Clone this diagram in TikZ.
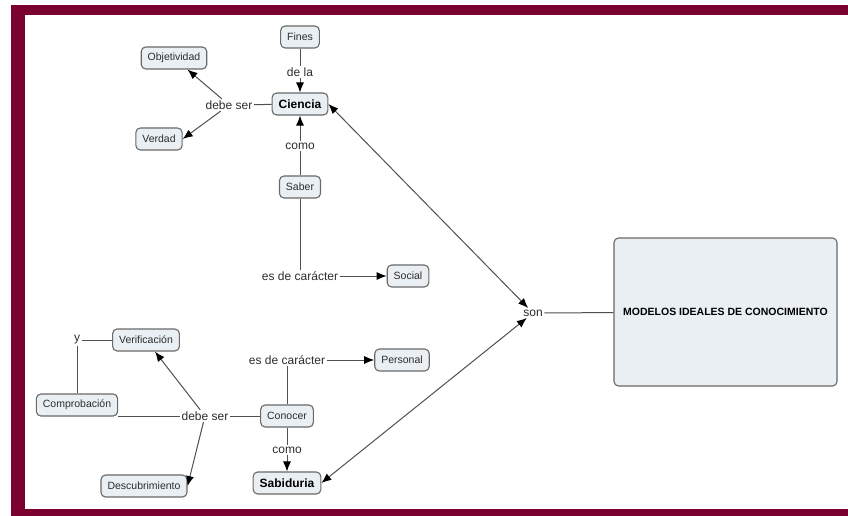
\documentclass[tikz,border=0pt]{standalone}
\usepackage{fontspec}
\setmainfont{Liberation Sans}
\usetikzlibrary{arrows.meta, calc, positioning}

\definecolor{marco}{RGB}{122,0,48}
\definecolor{relleno}{RGB}{233,239,243}
\definecolor{borde}{RGB}{105,105,105}
\definecolor{trazo}{RGB}{80,80,80}
\definecolor{texto}{RGB}{45,45,45}

\begin{document}
\begin{tikzpicture}[x=1pt, y=-1pt,
        concepto/.style={draw=borde, fill=relleno, rounded corners=4.5pt, line width=1.1pt, inner xsep=6.5pt, inner ysep=0pt, minimum height=22pt, text=texto, font=\fontsize{10.5}{12}\selectfont},
        principal/.style={concepto, text=black, font=\fontsize{12}{14}\selectfont\bfseries},
        enlace/.style={inner sep=1.5pt, text=texto, font=\fontsize{12}{14}\selectfont},
        linea/.style={draw=trazo, line width=1pt},
        flecha/.style={linea, -{Latex[length=10pt, width=8pt, color=black]}},
        doble/.style={linea, {Latex[length=10pt, width=8pt, color=black]}-{Latex[length=10pt, width=8pt, color=black]}}]
    \useasboundingbox (0,0) rectangle (848,516);
    \fill[marco] (11,5) rectangle (848,516);
    \fill[white] (25,15) rectangle (848,509);

    % Ciencia
    \node[concepto] (fines) at (300,37) {Fines};
    \node[enlace] (dela) at (300,72) {de la};
    \node[principal] (ciencia) at (300,104) {Ciencia};
    \node[concepto] (objet) at (174,58) {Objetividad};
    \node[concepto] (verdad) at (159,139) {Verdad};
    \node[enlace] (debeA) at (229,105) {debe ser};
    \node[enlace] (comoA) at (300,146) {como};
    \node[concepto] (saber) at (300,187) {Saber};
    \node[enlace] (caractA) at (300,276) {es de carácter};
    \node[concepto] (social) at (408,276) {Social};

    % Modelos
    \node[enlace] (son) at (533,313) {son};
    \node[concepto, minimum width=223pt, minimum height=148pt, text=black, font=\fontsize{10.5}{12}\selectfont\bfseries] (modelos) at (725.5,312) {MODELOS IDEALES DE CONOCIMIENTO};

    % Sabiduria
    \node[concepto] (verif) at (146,340) {Verificación};
    \node[enlace] (y) at (77,340) {y};
    \node[concepto] (comprob) at (77,405) {Comprobación};
    \node[enlace] (debeB) at (205,416) {debe ser};
    \node[concepto] (conocer) at (287,416) {Conocer};
    \node[enlace] (caractB) at (287,360) {es de carácter};
    \node[concepto] (personal) at (402,360) {Personal};
    \node[enlace] (comoB) at (287,450) {como};
    \node[principal] (sabid) at (287,483) {Sabiduria};
    \node[concepto] (descub) at (144,486) {Descubrimiento};

    \draw[linea] (fines) -- (dela);
    \draw[flecha] (dela) -- (ciencia);
    \draw[linea] (ciencia) -- (debeA);
    \draw[flecha] (debeA) -- (objet);
    \draw[flecha] (debeA) -- (verdad.east);
    \draw[linea] (saber) -- (comoA);
    \draw[flecha] (comoA) -- (ciencia);
    \draw[linea] (saber) -- (caractA);
    \draw[flecha] (caractA) -- (social);

    \draw[doble] (ciencia.east) -- (son);
    \draw[doble] (sabid.east) -- (son);
    \draw[linea] (son) -- (modelos);

    \draw[linea] (verif) -- (y);
    \draw[linea] (y) -- (comprob);
    \draw[linea] (debeB) -- (debeB -| comprob.east);
    \draw[linea] (debeB) -- (conocer);
    \draw[flecha] (debeB) -- (verif);
    \draw[flecha] (debeB) -- (descub.east);
    \draw[linea] (conocer) -- (caractB);
    \draw[flecha] (caractB) -- (personal);
    \draw[linea] (conocer) -- (comoB);
    \draw[flecha] (comoB) -- (sabid);
\end{tikzpicture}
\end{document}
